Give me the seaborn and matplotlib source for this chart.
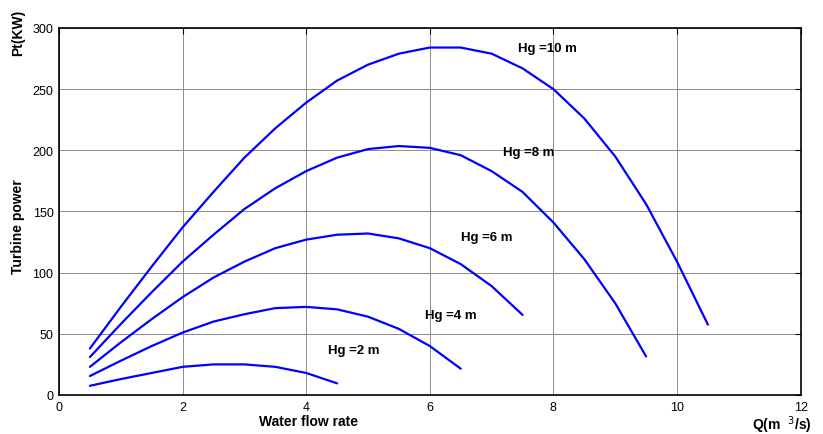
import matplotlib
matplotlib.use("Agg")
import matplotlib.pyplot as plt
import seaborn as sns
import pandas as pd

# flow rate Q (m3/s) and turbine power Pt (kW) for each head
q = [0.5, 1, 1.5, 2, 2.5, 3, 3.5, 4, 4.5, 5, 5.5, 6, 6.5, 7, 7.5, 8, 8.5, 9, 9.5, 10, 10.5]
pt_2 = [7.5, 13, 18, 23, 25, 25, 23, 18, 9.5]
pt_4 = [15.5, 28, 40, 51, 60, 66, 71, 72, 70, 64, 54, 40, 21.5]
pt_6 = [23, 43, 62, 80, 96, 109, 120, 127, 131, 132, 128, 120, 107, 89, 65.5]
pt_8 = [31, 58, 84, 109, 131, 152, 169, 183, 194, 201, 203.5, 202, 196, 183,
        166, 141, 111, 75, 31.5]
pt_10 = [38, 72, 105, 137, 166, 194, 218, 239, 257, 270, 279, 284, 284, 279,
         267, 250, 226, 195, 156, 109, 57.5]

heads = ["Hg =2 m", "Hg =4 m", "Hg =6 m", "Hg =8 m", "Hg =10 m"]
series = [pt_2, pt_4, pt_6, pt_8, pt_10]
label_pos = [(4.36, 37), (5.93, 65), (6.51, 129), (7.19, 199), (7.43, 284)]

rows = []
for name, vals in zip(heads, series):
    for x, y in zip(q, vals):
        rows.append({"Q": x, "Pt": y, "Head": name})
df = pd.DataFrame(rows)

sns.set_style("white")
plt.rcParams["font.family"] = ["Liberation Sans", "DejaVu Sans"]
plt.rcParams["text.color"] = "black"
plt.rcParams["xtick.color"] = "black"
plt.rcParams["ytick.color"] = "black"

fig = plt.figure(figsize=(8.23, 4.35), dpi=100)
ax = fig.add_axes([0.0717, 0.0897, 0.9011, 0.8437])

sns.lineplot(data=df, x="Q", y="Pt", units="Head", estimator=None,
             color="#0000ff", linewidth=1.6, ax=ax, legend=False)

for name, (lx, ly) in zip(heads, label_pos):
    ax.text(lx, ly, name, fontsize=9.5, fontweight="bold", va="center", ha="left")

ax.set_xlim(0, 12)
ax.set_ylim(0, 300)
ax.set_xticks(range(0, 13, 2))
ax.set_yticks(range(0, 301, 50))
ax.grid(True, color="#8c8c8c", linewidth=0.7)
ax.tick_params(direction="in", top=True, right=True, labelsize=9, length=4,
               width=0.8, pad=4)
for s in ax.spines.values():
    s.set_linewidth(1.2)
    s.set_color("black")

ax.set_xlabel("")
ax.set_ylabel("")
fig.text(0.375, 0.03, "Water flow rate", fontsize=10, fontweight="bold", ha="center", va="center")
fig.text(0.022, 0.48, "Turbine power", fontsize=10, fontweight="bold", rotation=90,
         ha="center", va="center")
fig.text(0.022, 0.925, "Pt(KW)", fontsize=10, fontweight="bold", rotation=90,
         ha="center", va="center")
fig.text(0.95, 0.022, r"Q(m  $^{3}$/s)", fontsize=10, fontweight="bold", ha="center", va="center")

fig.savefig("out.png", dpi=100)
